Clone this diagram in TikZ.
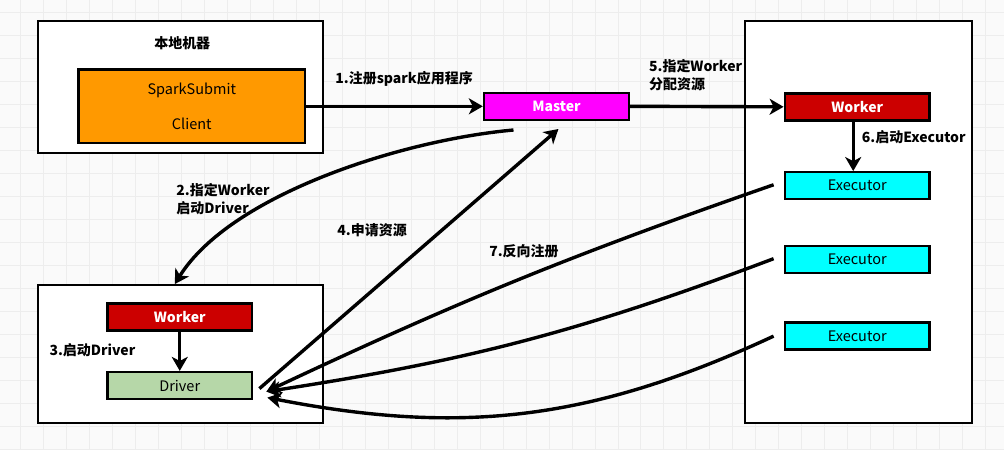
\documentclass[tikz,border=0pt]{standalone}
\usepackage{fontspec}
\setmainfont{Noto Sans CJK SC}
\usepackage{xcolor}
\usetikzlibrary{arrows.meta}

\definecolor{gridbg}{HTML}{FAFAFA}
\definecolor{gridline}{HTML}{EDEDED}
\definecolor{submitorange}{HTML}{FF9900}
\definecolor{mastermagenta}{HTML}{FF00FF}
\definecolor{workerred}{HTML}{CC0000}
\definecolor{executorcyan}{HTML}{00FFFF}
\definecolor{drivergreen}{HTML}{B6D7A8}

\tikzset{
  hostbox/.style={draw, line width=2.2pt, fill=white, inner sep=0pt},
  procbox/.style={draw, line width=2.4pt, inner sep=0pt, minimum width=145, minimum height=27,
    font=\fontsize{14.5}{16}\selectfont},
  steplabel/.style={font=\bfseries\fontsize{14}{18}\selectfont, inner sep=0pt},
  flow/.style={line width=3.4pt, -{Stealth[length=14pt,width=16pt,inset=4pt]}},
}

\begin{document}
\begin{tikzpicture}[x=1pt,y=-1pt]
\fill[gridbg] (0,0) rectangle (1004,450);
\foreach \gx in {20,43,...,1004} \draw[gridline, line width=0.8pt] (\gx,0) -- (\gx,450);
\foreach \gy in {12,35,...,450} \draw[gridline, line width=0.8pt] (0,\gy) -- (1004,\gy);

\node[hostbox, minimum width=285, minimum height=132] (local) at (180.5,87) {};
\node[steplabel] (localtitle) at (182,43) {本地机器};
\node[procbox, fill=submitorange, minimum width=227, minimum height=74, align=center] (submit) at (191.5,106) {SparkSubmit\\[19pt]Client};

\node[procbox, fill=mastermagenta, text=white, font=\bfseries\fontsize{14}{16}\selectfont] (master) at (556.5,106) {Master};

\node[hostbox, minimum width=227, minimum height=402] (workerhost) at (858.5,222) {};
\node[procbox, fill=workerred, text=white, font=\bfseries\fontsize{14}{16}\selectfont] (worker) at (857.5,106.5) {Worker};
\node[procbox, fill=executorcyan] (exec1) at (857.5,185.5) {Executor};
\node[procbox, fill=executorcyan] (exec2) at (857.5,259.5) {Executor};
\node[procbox, fill=executorcyan] (exec3) at (857.5,336) {Executor};

\node[hostbox, minimum width=285, minimum height=138] (driverhost) at (180.5,354) {};
\node[procbox, fill=workerred, text=white, font=\bfseries\fontsize{14}{16}\selectfont] (dworker) at (179.5,317) {Worker};
\node[procbox, fill=drivergreen] (driver) at (179.5,385.5) {Driver};

\coordinate (twostart) at ([xshift=-43pt,yshift=-9pt]master.south);
\coordinate (fourstart) at ([xshift=6pt,yshift=-3pt]driver.east);
\coordinate (fourend) at ([xshift=2pt,yshift=-8pt]master.south);
\coordinate (regin) at ([xshift=13pt,yshift=-6pt]driver.east);
\coordinate (reglow) at ([xshift=14pt,yshift=-12pt]driver.east);
\coordinate (r1) at ([xshift=-10pt,yshift=1pt]exec1.west);
\coordinate (r2) at ([xshift=-10pt,yshift=1pt]exec2.west);
\coordinate (r3) at ([xshift=-10pt]exec3.west);

\draw[flow] (submit.east) -- (master.west);
\node[steplabel] (l1) at (404,79) {1.注册spark应用程序};

\draw[flow] (master.east) -- (worker.west);
\node[steplabel, anchor=west, align=left] (l5) at (649,74.5) {5.指定Worker\\分配资源};

\draw[flow] ([xshift=-4pt]worker.south) -- ([xshift=-4pt]exec1.north);
\node[steplabel, anchor=west] (l6) at (862,137) {6.启动Executor};

\draw[flow] (twostart) .. controls (400,140) and (230,195) .. ([xshift=-6pt]driverhost.north);
\node[steplabel, anchor=west, align=left] (l2) at (176,199) {2.指定Worker\\启动Driver};

\draw[flow] (dworker.south) -- (driver.north);
\node[steplabel, anchor=west] (l3) at (49,350) {3.启动Driver};

\draw[flow] (fourstart) -- (fourend);
\node[steplabel] (l4) at (372,230) {4.申请资源};

\draw[flow] (r1) to[bend right=3] (regin);
\draw[flow] (r2) to[bend left=6] (regin);
\draw[flow] (r3) to[bend left=18] (reglow);
\node[steplabel] (l7) at (524,251) {7.反向注册};
\end{tikzpicture}
\end{document}
